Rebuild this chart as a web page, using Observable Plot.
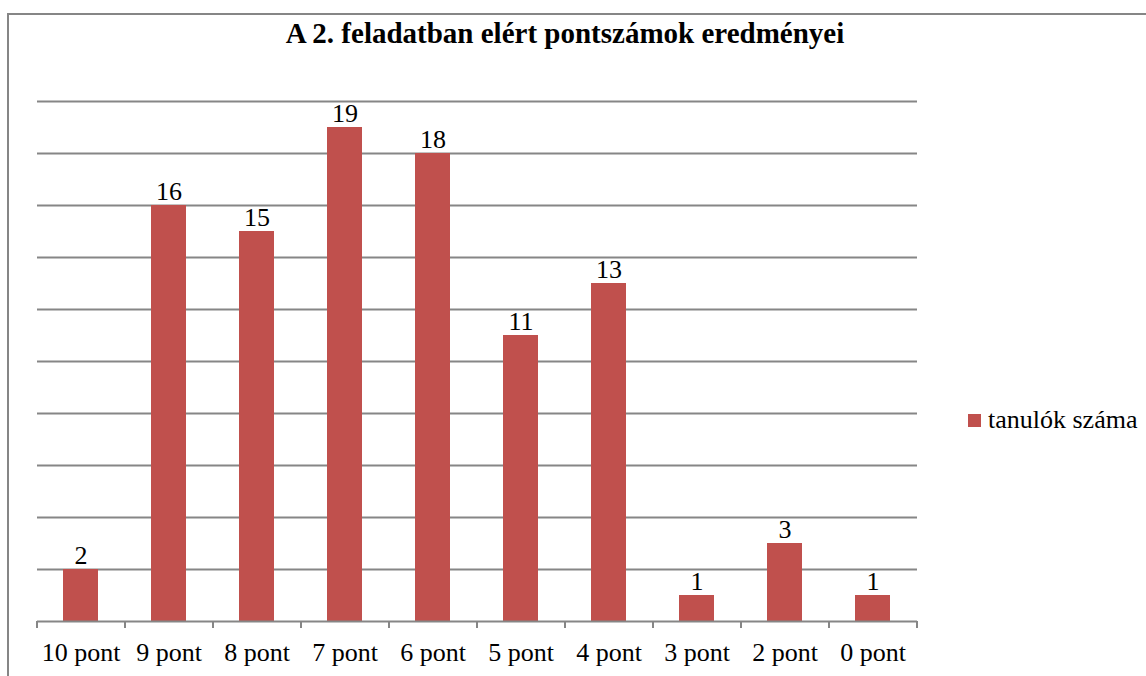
<!DOCTYPE html>
<html>
<head>
<meta charset="utf-8">
<script src="https://cdn.jsdelivr.net/npm/d3@7"></script>
<script src="https://cdn.jsdelivr.net/npm/@observablehq/plot@0.6"></script>
</head>
<body style="margin:0;padding:0;background:#ffffff;font-family:'Liberation Serif'">
<div id="root" style="position:relative;width:1146px;height:676px;overflow:hidden;font-family:'Liberation Serif'">
  <div id="plotbox" style="position:absolute;left:0;top:0"></div>
  <div id="ttl" style="position:absolute;left:0;width:1130px;top:17px;text-align:center;font-family:'Liberation Serif';font-weight:bold;font-size:29px;color:#000">A 2. feladatban elért pontszámok eredményei</div>
  <div id="lgd" style="position:absolute;left:968px;top:405px;font-family:'Liberation Serif';font-size:26px;color:#000;display:flex;align-items:center;white-space:nowrap"><span style="display:inline-block;width:13px;height:13px;background:#C0504D;margin-right:7px"></span><span id="lgdtext"></span></div>
  <div style="position:absolute;left:7px;top:13px;right:-20px;bottom:-20px;border:2px solid #868686;pointer-events:none"></div>
</div>
<script>
const categories = ["10 pont", "9 pont", "8 pont", "7 pont", "6 pont", "5 pont", "4 pont", "3 pont", "2 pont", "0 pont"];
const values = [2, 16, 15, 19, 18, 11, 13, 1, 3, 1];
const gridTicks = [2, 4, 6, 8, 10, 12, 14, 16, 18, 20];
const seriesName = "tanulók száma";

document.getElementById("lgdtext").textContent = seriesName;

const data = categories.map((c, i) => ({category: c, value: values[i]}));

const W = 1146, H = 676, ML = 37, MR = 229, MT = 101, MB = 55;
const step = (W - ML - MR) / categories.length;
const gray = "#868686";
const barColor = "#C0504D";
const font = "Liberation Serif";

const plot = Plot.plot({
  width: W,
  height: H,
  marginLeft: ML,
  marginRight: MR,
  marginTop: MT,
  marginBottom: MB,
  style: {background: "transparent", fontFamily: font, fontSize: "26px", color: "#000"},
  x: {domain: categories, paddingInner: 0.6, paddingOuter: 0.3, label: null},
  y: {domain: [0, 20], axis: null},
  marks: [
    Plot.ruleY(gridTicks, {stroke: gray, strokeWidth: 2}),
    Plot.barY(data, {x: "category", y: "value", fill: barColor}),
    Plot.ruleY([0], {stroke: gray, strokeWidth: 2}),
    Plot.ruleX(categories, {x: d => d, dx: -step / 2, y1: 0, y2: 0, insetBottom: -7, stroke: gray, strokeWidth: 2}),
    Plot.ruleX(categories.slice(-1), {x: d => d, dx: step / 2, y1: 0, y2: 0, insetBottom: -7, stroke: gray, strokeWidth: 2}),
    Plot.text(data, {x: "category", y: "value", text: d => String(d.value), dy: -14, fontSize: 26, fontFamily: font, fill: "#000"}),
    Plot.axisX({tickSize: 0, tickPadding: 21, fontSize: 26, fontFamily: font, fill: "#000"})
  ]
});
document.getElementById("plotbox").appendChild(plot);
</script>
</body>
</html>
